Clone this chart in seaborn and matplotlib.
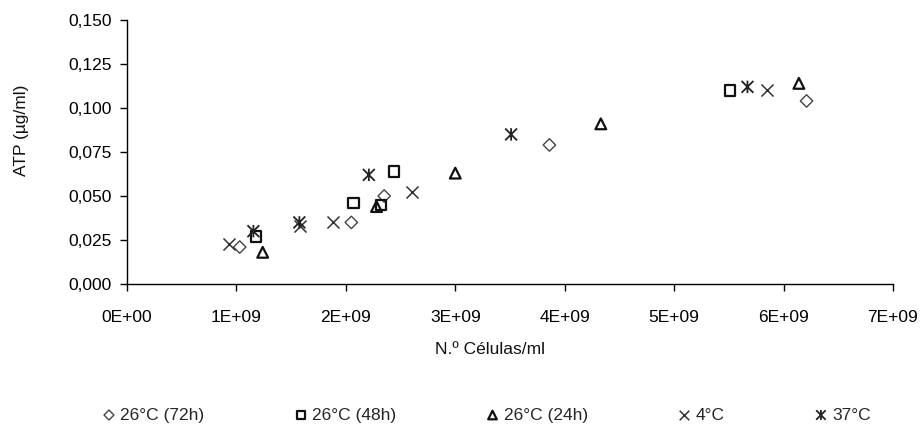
import matplotlib
matplotlib.use("Agg")
import matplotlib.pyplot as plt
from matplotlib.path import Path
from matplotlib.ticker import FuncFormatter, MultipleLocator
import seaborn as sns
import pandas as pd

# ---- data ----
x_72h = [1.03e9, 2.05e9, 2.35e9, 3.86e9, 6.21e9]
y_72h = [0.021, 0.035, 0.050, 0.079, 0.104]

x_48h = [1.18e9, 2.07e9, 2.32e9, 2.44e9, 5.51e9]
y_48h = [0.027, 0.046, 0.045, 0.064, 0.110]

x_24h = [1.24e9, 2.28e9, 3.00e9, 4.33e9, 6.14e9]
y_24h = [0.018, 0.044, 0.063, 0.091, 0.114]

x_4c = [0.93e9, 1.58e9, 1.88e9, 2.60e9, 5.85e9]
y_4c = [0.023, 0.033, 0.035, 0.052, 0.110]

x_37c = [1.155e9, 1.575e9, 2.21e9, 3.51e9, 5.67e9]
y_37c = [0.030, 0.035, 0.062, 0.085, 0.112]

labels = ["26°C (72h)", "26°C (48h)", "26°C (24h)", "4°C", "37°C"]

FS = 12.5
sns.set_theme(style="white")
plt.rcParams["font.family"] = ["Liberation Sans", "DejaVu Sans"]
plt.rcParams["font.size"] = FS

fig = plt.figure(figsize=(9.24, 4.28), dpi=100)
ax = fig.add_axes([127 / 924, 1 - 284 / 428, (893 - 127) / 924, (284 - 20) / 428])

# custom asterisk: X plus vertical bar
ast = Path([(-1, -1), (1, 1), (-1, 1), (1, -1), (0, -1.05), (0, 1.05)],
           [Path.MOVETO, Path.LINETO, Path.MOVETO, Path.LINETO, Path.MOVETO, Path.LINETO])

series = [
    (x_72h, y_72h, labels[0], "D", dict(s=40, facecolor="none", edgecolor="#444444", linewidth=1.0)),
    (x_48h, y_48h, labels[1], "s", dict(s=55, facecolor="none", edgecolor="#111111", linewidth=1.6)),
    (x_24h, y_24h, labels[2], "^", dict(s=60, facecolor="none", edgecolor="#111111", linewidth=1.6)),
    (x_4c, y_4c, labels[3], "x", dict(s=75, color="#333333", linewidth=1.1)),
    (x_37c, y_37c, labels[4], ast, dict(s=80, facecolor="none", edgecolor="#222222", linewidth=1.3)),
]

for xs, ys, lab, mk, kw in series:
    df = pd.DataFrame({"x": xs, "y": ys})
    sns.scatterplot(data=df, x="x", y="y", marker=mk, label=lab, ax=ax, **kw)

ax.set_xlim(0, 7e9)
ax.set_ylim(0, 0.150)
ax.xaxis.set_major_locator(MultipleLocator(1e9))
ax.yaxis.set_major_locator(MultipleLocator(0.025))
ax.xaxis.set_major_formatter(FuncFormatter(lambda v, p: f"{int(round(v / 1e9))}E+{'00' if round(v) == 0 else '09'}"))
ax.yaxis.set_major_formatter(FuncFormatter(lambda v, p: f"{v:.3f}".replace(".", ",")))

for s in ["top", "right"]:
    ax.spines[s].set_visible(False)
for s in ["left", "bottom"]:
    ax.spines[s].set_color("black")
    ax.spines[s].set_linewidth(1.0)

ax.tick_params(axis="both", which="major", direction="out", length=5, width=1,
               colors="black", labelsize=FS, bottom=True, left=True)
ax.tick_params(axis="x", pad=14)
ax.tick_params(axis="y", pad=6)

ax.set_xlabel("N.º Células/ml", fontsize=FS, color="#111111")
ax.set_ylabel("ATP (µg/ml)", fontsize=FS, color="#111111")
ax.xaxis.set_label_coords((490 - 127) / (893 - 127), -(342 - 284) / 264)
ax.yaxis.set_label_coords(-(127 - 29) / 766, (284 - 130) / 264)

handles, labs = ax.get_legend_handles_labels()
ax.get_legend().remove()
fig.legend(handles, labs, loc="center", bbox_to_anchor=(486 / 924, 1 - 415 / 428), ncol=5,
           frameon=False, fontsize=FS, columnspacing=5.1, handletextpad=0.2,
           handlelength=0.9, markerscale=0.8)

fig.savefig("out.png", dpi=100)
